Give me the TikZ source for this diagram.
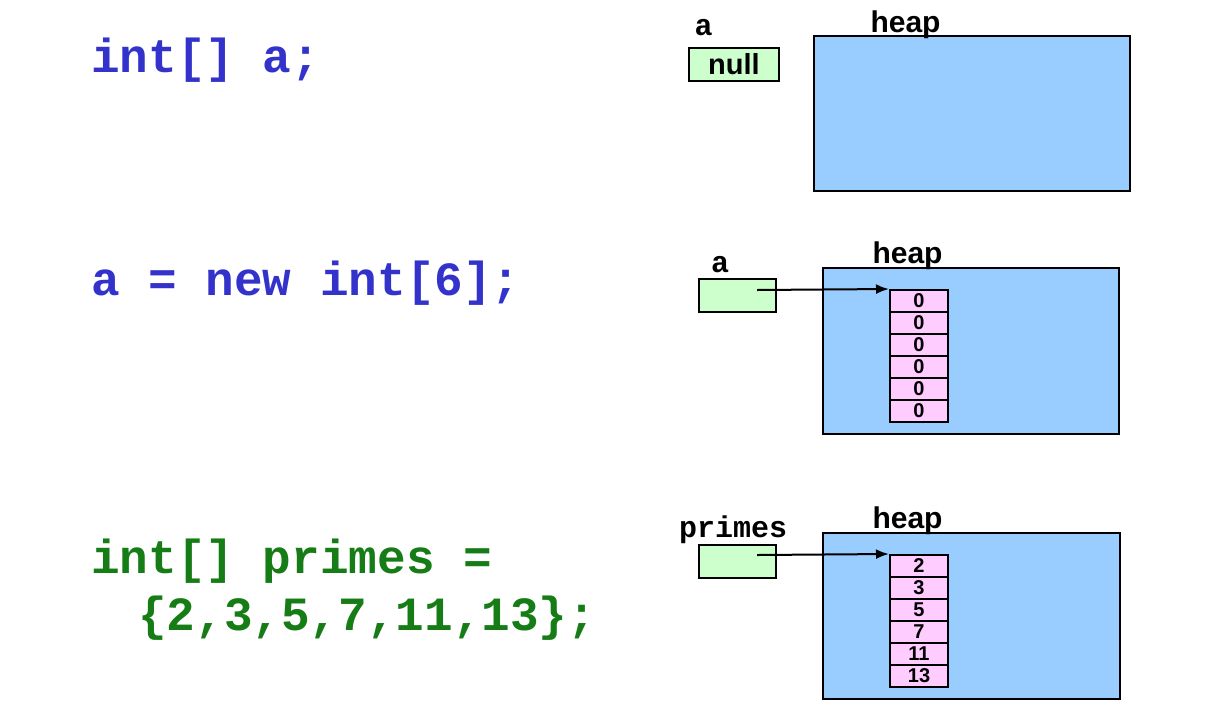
\documentclass[tikz,border=0pt]{standalone}
\usepackage{fontspec}
\setmainfont{Liberation Sans}
\newfontfamily\codefont{Liberation Mono}
\usetikzlibrary{arrows.meta}
\definecolor{codeblue}{HTML}{3333CC}
\definecolor{codegreen}{HTML}{167C16}
\definecolor{varfill}{HTML}{CCFFCC}
\definecolor{heapfill}{HTML}{99CCFF}
\definecolor{cellfill}{HTML}{FFCCFF}
\tikzset{
  code/.style={anchor=base west, inner sep=0pt, font=\codefont\bfseries\fontsize{47.7}{47.7}\selectfont},
  varname/.style={anchor=base, inner sep=0pt, font=\codefont\bfseries\fontsize{30}{30}\selectfont},
  heaplabel/.style={anchor=base, inner sep=0pt, font=\bfseries\fontsize{30}{30}\selectfont},
  varbox/.style={draw=black, line width=2pt, fill=varfill, inner sep=0pt},
  heapbox/.style={draw=black, line width=2pt, fill=heapfill, inner sep=0pt},
  cellbox/.style={draw=black, line width=2pt, fill=cellfill, inner sep=0pt,
     minimum width=58pt, minimum height=22pt, font=\bfseries\fontsize{20}{20}\selectfont},
  ptr/.style={line width=2pt, -{Latex[length=13pt,width=10pt]}}
}
\begin{document}
\begin{tikzpicture}[x=1pt,y=-1pt]
\useasboundingbox (0,0) rectangle (1214,713);
% left code
\node[code, text=codeblue] (c1) at (91,72) {int[] a;};
\node[code, text=codeblue] (c2) at (91,295) {a = new int[6];};
\node[code, text=codegreen] (c3) at (91,573) {int[] primes =};
\node[code, text=codegreen] (c4) at (138,630) {\{2,3,5,7,11,13\};};

% panel 1
\node[heapbox, minimum width=316pt, minimum height=155pt] (h1) at (971.5,113) {};
\node[heaplabel] (hl1) at (905.5,32) {heap};
\node[varname] (n1) at (703.5,35) {a};
\node[varbox, minimum width=90pt, minimum height=33pt, font=\bfseries\fontsize{29}{29}\selectfont] (v1) at (734,64) {null};

% panel 2
\node[heapbox, minimum width=296pt, minimum height=166pt] (h2) at (971,351) {};
\node[heaplabel] (hl2) at (907.5,263) {heap};
\node[varname] (n2) at (720,272) {a};
\node[varbox, minimum width=77pt, minimum height=33pt] (v2) at (737.5,295.5) {};
\foreach \i in {1,...,6}{
  \node[cellbox] (a\i) at (919,{290+22*(\i-1)+11}) {0};
}
\coordinate (s2) at (757,290);
\draw[ptr] (s2) -- (a1.north west);

% panel 3
\node[heapbox, minimum width=297pt, minimum height=166pt] (h3) at (971.5,616) {};
\node[heaplabel] (hl3) at (907.5,528) {heap};
\node[varname] (n3) at (733,537) {primes};
\node[varbox, minimum width=77pt, minimum height=33pt] (v3) at (737.5,561) {};
\foreach \v [count=\i] in {2,3,5,7,11,13}{
  \node[cellbox] (b\i) at (919,{555+22*(\i-1)+11}) {\v};
}
\coordinate (s3) at (757,555);
\draw[ptr] (s3) -- (b1.north west);
\end{tikzpicture}
\end{document}
